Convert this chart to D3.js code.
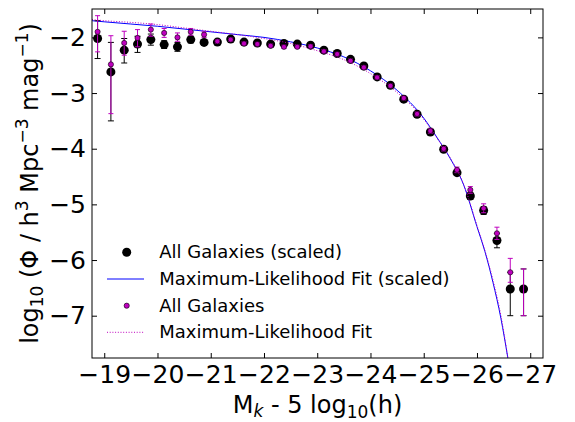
<!DOCTYPE html>
<html><head><meta charset="utf-8">
<script src="https://cdn.jsdelivr.net/npm/d3@7"></script>
<style>
body{margin:0;background:#fff;}
svg{display:block;font-family:"DejaVu Sans",sans-serif;}
</style></head><body>
<svg id="c" width="575" height="422"></svg>
<script>
// ---- data ----
const mags = [-18.875,-19.125,-19.375,-19.625,-19.875,-20.125,-20.375,-20.625,-20.875,-21.125,-21.375,-21.625,-21.875,-22.125,-22.375,-22.625,-22.875,-23.125,-23.375,-23.625,-23.875,-24.125,-24.375,-24.625,-24.875,-25.125,-25.375,-25.625,-25.875,-26.125,-26.375,-26.625,-26.875];
const scaledPhi = [-2.02,-2.62,-2.23,-2.12,-2.04,-2.13,-2.17,-2.04,-2.09,-2.085,-2.03,-2.085,-2.10,-2.12,-2.11,-2.12,-2.14,-2.23,-2.29,-2.395,-2.515,-2.71,-2.86,-3.11,-3.38,-3.70,-4.01,-4.43,-4.85,-5.11,-5.65,-6.52,-6.52];
const scaledLo = [-2.38,-3.50,-2.46,-2.27,-2.14,-2.20,-2.25,-2.10,-2.14,-2.13,-2.07,-2.12,-2.13,-2.15,-2.14,-2.15,-2.17,-2.26,-2.32,-2.42,-2.54,-2.74,-2.89,-3.14,-3.41,-3.74,-4.05,-4.48,-4.91,-5.18,-5.78,-7.00,-7.00];
const scaledHi = [-1.70,-2.09,-2.02,-1.98,-1.94,-2.06,-2.09,-1.98,-2.04,-2.04,-1.99,-2.05,-2.07,-2.09,-2.08,-2.09,-2.11,-2.20,-2.26,-2.37,-2.49,-2.68,-2.83,-3.08,-3.35,-3.66,-3.97,-4.38,-4.79,-5.04,-5.52,-6.22,-6.16];
const allPhi = [-1.90,-2.485,-2.10,-2.01,-1.86,-1.92,-2.00,-1.90,-1.95,-2.07,-2.04,-2.11,-2.12,-2.15,-2.17,-2.17,-2.16,-2.25,-2.30,-2.42,-2.54,-2.72,-2.87,-3.09,-3.375,-3.68,-4.00,-4.38,-4.74,-5.07,-5.52,-6.22,null];
const allLo = [-2.26,-3.37,-2.32,-2.17,-1.98,-2.00,-2.07,-1.96,-2.00,-2.10,-2.07,-2.14,-2.15,-2.18,-2.20,-2.20,-2.19,-2.28,-2.33,-2.45,-2.57,-2.75,-2.90,-3.12,-3.41,-3.72,-4.04,-4.43,-4.80,-5.15,-5.63,-6.40,-7.00];
const allHi = [-1.61,-1.97,-1.89,-1.86,-1.76,-1.84,-1.92,-1.84,-1.90,-2.04,-2.01,-2.08,-2.09,-2.12,-2.14,-2.14,-2.13,-2.22,-2.27,-2.39,-2.51,-2.69,-2.84,-3.06,-3.34,-3.64,-3.96,-4.33,-4.68,-4.99,-5.41,-5.97,-6.16];
const fitMags = [-18.77,-19,-19.5,-20,-20.5,-21,-21.5,-22,-22.5,-23,-23.5,-24,-24.5,-25,-25.25,-25.5,-25.75,-26,-26.15,-26.3,-26.45,-26.58];
const fitScaled = [-1.70,-1.72,-1.76,-1.80,-1.85,-1.90,-1.95,-2.00,-2.08,-2.19,-2.35,-2.60,-2.95,-3.45,-3.80,-4.18,-4.65,-5.40,-5.85,-6.40,-7.05,-7.76];
const fitAll = [-1.68,-1.70,-1.73,-1.77,-1.83,-1.89,-1.95,-2.02,-2.11,-2.24,-2.40,-2.65,-2.99,-3.47,-3.81,-4.17,-4.64,-5.38,-5.83,-6.36,-7.00,-7.76];
const xTicks = [-19,-20,-21,-22,-23,-24,-25,-26,-27];
const yTicks = [-2,-3,-4,-5,-6,-7];
const legendLabels = ["All Galaxies (scaled)","Maximum-Likelihood Fit (scaled)","All Galaxies","Maximum-Likelihood Fit"];

// ---- layout ----
const L=92, R=543, T=9, B=358;
const MAG = "#bf00bf", BLUE = "#0000ff";
const svg = d3.select("#c");
const x = d3.scaleLinear().domain([-18.77,-27.24]).range([L,R]);
const y = d3.scaleLinear().domain([-7.76,-1.49]).range([B,T]);

const defs = svg.append("defs");
defs.append("clipPath").attr("id","clip").append("rect").attr("x",L).attr("y",T).attr("width",R-L).attr("height",B-T);

const plot = svg.append("g").attr("clip-path","url(#clip)");

// fit lines
const line = d3.line().x(d=>x(d[0])).y(d=>y(d[1])).curve(d3.curveMonotoneX);
plot.append("path").datum(fitMags.map((m,i)=>[m,fitScaled[i]])).attr("d",line)
  .attr("fill","none").attr("stroke",BLUE).attr("stroke-width",1);

function errorbars(lo,hi,color,cap){
  const g = plot.append("g").attr("stroke",color).attr("stroke-width",1);
  mags.forEach((m,i)=>{
    if(lo[i]==null) return;
    const cx=x(m);
    g.append("line").attr("x1",cx).attr("x2",cx).attr("y1",y(lo[i])).attr("y2",y(hi[i]));
    g.append("line").attr("x1",cx-cap).attr("x2",cx+cap).attr("y1",y(lo[i])).attr("y2",y(lo[i]));
    g.append("line").attr("x1",cx-cap).attr("x2",cx+cap).attr("y1",y(hi[i])).attr("y2",y(hi[i]));
  });
}
errorbars(scaledLo,scaledHi,"#000",3);
plot.append("g").selectAll("circle").data(mags.map((m,i)=>[m,scaledPhi[i]]).filter(d=>d[1]!=null))
  .join("circle").attr("cx",d=>x(d[0])).attr("cy",d=>y(d[1])).attr("r",4.5).attr("fill","#000");

plot.append("path").datum(fitMags.map((m,i)=>[m,fitAll[i]])).attr("d",line)
  .attr("fill","none").attr("stroke",MAG).attr("stroke-width",1).attr("stroke-dasharray","1,1.7");

errorbars(allLo,allHi,MAG,2.5);
plot.append("g").selectAll("circle").data(mags.map((m,i)=>[m,allPhi[i]]).filter(d=>d[1]!=null))
  .join("circle").attr("cx",d=>x(d[0])).attr("cy",d=>y(d[1])).attr("r",2.6).attr("fill",MAG)
  .attr("stroke","#000").attr("stroke-width",0.6);

// axes
const fs = 25;
const fmt = d3.format("d");
const ax = svg.append("g").attr("transform",`translate(0,${B})`)
  .call(d3.axisBottom(x).tickValues(xTicks).tickFormat(fmt).tickSize(-5).tickSizeOuter(0).tickPadding(7));
const axT = svg.append("g").attr("transform",`translate(0,${T})`)
  .call(d3.axisTop(x).tickValues(xTicks).tickSize(-5).tickSizeOuter(0).tickFormat(""));
const ay = svg.append("g").attr("transform",`translate(${L},0)`)
  .call(d3.axisLeft(y).tickValues(yTicks).tickFormat(fmt).tickSize(-5).tickSizeOuter(0).tickPadding(6));
const ayR = svg.append("g").attr("transform",`translate(${R},0)`)
  .call(d3.axisRight(y).tickValues(yTicks).tickSize(-5).tickSizeOuter(0).tickFormat(""));
[ax,axT,ay,ayR].forEach(g=>{
  g.select(".domain").remove();
  g.selectAll("text").attr("font-family","DejaVu Sans").attr("font-size",fs).attr("fill","#000");
  g.selectAll("line").attr("stroke","#000");
});
svg.append("rect").attr("x",L).attr("y",T).attr("width",R-L).attr("height",B-T)
  .attr("fill","none").attr("stroke","#000").attr("stroke-width",1);

// axis labels
const xl = svg.append("text").attr("x",(L+R)/2).attr("y",413).attr("text-anchor","middle")
  .attr("font-size",24).attr("fill","#000");
xl.append("tspan").text("M");
xl.append("tspan").attr("font-size",17).attr("font-style","italic").attr("dy",4).text("k");
xl.append("tspan").attr("dy",-4).text(" - 5 log");
xl.append("tspan").attr("font-size",17).attr("dy",5).text("10");
xl.append("tspan").attr("dy",-5).text("(h)");

const yl = svg.append("text").attr("transform",`translate(38,${(T+B)/2}) rotate(-90)`)
  .attr("text-anchor","middle").attr("font-size",24).attr("fill","#000");
yl.append("tspan").text("log");
yl.append("tspan").attr("font-size",17).attr("dy",5).text("10");
yl.append("tspan").attr("dy",-5).text(" (Φ / h");
yl.append("tspan").attr("font-size",17).attr("dy",-10).text("3");
yl.append("tspan").attr("dy",10).text(" Mpc");
yl.append("tspan").attr("font-size",17).attr("dy",-10).text("−3");
yl.append("tspan").attr("dy",10).text(" mag");
yl.append("tspan").attr("font-size",17).attr("dy",-10).text("−1");
yl.append("tspan").attr("dy",10).text(")");

// legend
const lg = svg.append("g");
const rows = [258.3,285,311.7,338.3];
const tx = 159.3, mx = 126.7, lx0 = 107, lx1 = 144;
lg.append("circle").attr("cx",mx).attr("cy",rows[0]-6).attr("r",4.5).attr("fill","#000");
lg.append("line").attr("x1",lx0).attr("x2",lx1).attr("y1",rows[1]-6).attr("y2",rows[1]-6).attr("stroke",BLUE).attr("stroke-width",1);
lg.append("circle").attr("cx",mx).attr("cy",rows[2]-6).attr("r",2.6).attr("fill",MAG).attr("stroke","#000").attr("stroke-width",0.6);
lg.append("line").attr("x1",lx0).attr("x2",lx1).attr("y1",rows[3]-6).attr("y2",rows[3]-6).attr("stroke",MAG).attr("stroke-width",1).attr("stroke-dasharray","1,1.7");
legendLabels.forEach((t,i)=>{
  lg.append("text").attr("x",tx).attr("y",rows[i]).attr("font-size",18).attr("fill","#000").text(t);
});
</script>
</body></html>
